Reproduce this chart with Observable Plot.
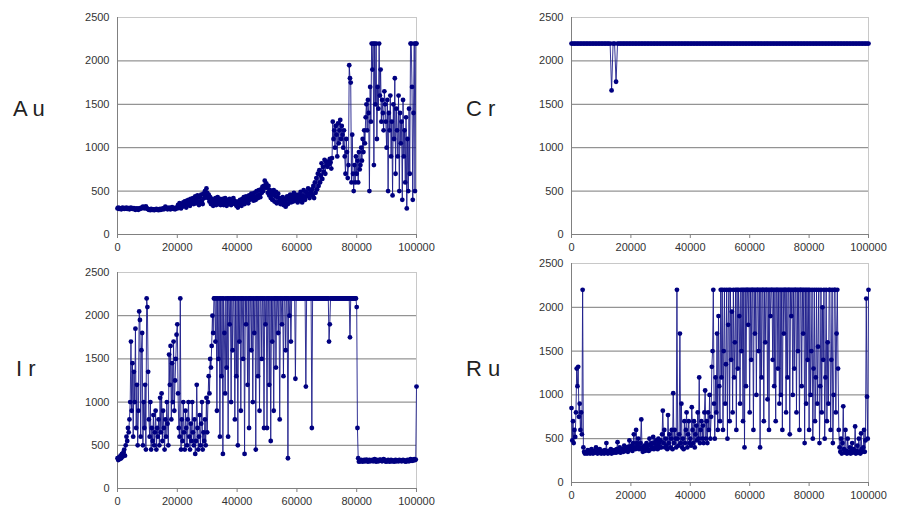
<!DOCTYPE html>
<html><head><meta charset="utf-8">
<script src="https://cdn.jsdelivr.net/npm/d3@7"></script>
<script src="https://cdn.jsdelivr.net/npm/@observablehq/plot@0.6"></script>
<style>
body{margin:0;background:#fff;}
#wrap{position:relative;width:901px;height:508px;overflow:hidden;background:#fff;font-family:"Liberation Sans",Arial,sans-serif;}
.panel{position:absolute;}
.lab{position:absolute;font-size:22px;line-height:22px;color:#222;white-space:pre;}
</style></head><body><div id="wrap"></div>
<script>
// x positions: sample index * step (samples every 250 / 500 units)
const stepFine = 250;
const stepCr = 500;
const xTicks = [0, 20000, 40000, 60000, 80000, 100000];
const yTicks = [0, 500, 1000, 1500, 2000, 2500];
const gridVals = [500, 1000, 1500, 2000];
const names = ["A u", "C r", "I r", "R u"];

const au = [
300,310,295,305,300,290,305,310,300,295,305,300,310,295,300,305,290,300,310,300,
295,300,305,290,285,295,300,290,285,300,295,300,310,305,320,315,300,310,325,305,
295,290,285,290,280,295,290,285,290,280,285,290,295,285,290,280,290,295,285,290,
295,300,290,305,320,310,300,290,300,310,295,290,300,315,305,295,300,290,310,305,
300,340,310,360,330,300,350,320,370,330,380,340,310,390,350,400,360,330,410,370,
380,420,350,400,440,360,410,450,370,340,430,380,460,390,350,470,420,500,450,530,
480,420,460,380,430,350,410,370,330,400,360,420,340,390,430,350,380,410,340,390,
370,410,340,390,420,360,330,400,380,350,410,370,340,400,360,420,390,350,380,330,
350,310,380,340,400,360,330,410,370,430,350,400,440,380,420,360,450,400,430,470,
410,450,390,480,430,400,500,450,420,510,460,430,520,480,550,500,560,620,540,590,
540,480,560,450,510,420,480,400,460,510,380,440,490,360,430,470,380,420,350,410,
380,430,340,410,370,320,400,440,350,420,390,460,370,410,450,380,480,420,460,390,
430,370,460,400,440,490,410,370,450,510,430,400,490,440,470,530,460,420,510,480,
520,450,560,420,600,480,650,520,700,560,740,600,680,820,640,780,720,860,700,840,
800,780,840,810,870,830,760,880,1300,1100,1200,1000,1250,1150,900,1280,1050,1200,1320,1100,
1250,1150,1000,1200,900,700,1100,950,650,800,1950,1800,1750,600,1150,700,500,800,600,900,
700,850,600,950,750,800,1000,850,1100,950,1200,1050,1350,1500,1200,1550,1400,500,1700,1300,
2200,1900,2200,800,2200,1500,2200,1100,1700,1450,2200,1600,1900,1300,1550,1400,1200,1650,1500,1300,
1000,1550,500,1400,1200,1600,900,1300,450,1500,1100,1800,700,1450,1200,900,1600,500,1400,1050,
1300,400,1550,900,1200,600,1350,300,1100,500,1450,700,2200,2200,1700,400,1400,2200,500,2200,
2200];

const cr = [
2200,2200,2200,2200,2200,2200,2200,2200,2200,2200,2200,2200,2200,2200,2200,2200,2200,2200,2200,2200,
2200,2200,2200,2200,2200,2200,2200,1660,2200,2200,1760,2200,2200,2200,2200,2200,2200,2200,2200,2200,
2200,2200,2200,2200,2200,2200,2200,2200,2200,2200,2200,2200,2200,2200,2200,2200,2200,2200,2200,2200,
2200,2200,2200,2200,2200,2200,2200,2200,2200,2200,2200,2200,2200,2200,2200,2200,2200,2200,2200,2200,
2200,2200,2200,2200,2200,2200,2200,2200,2200,2200,2200,2200,2200,2200,2200,2200,2200,2200,2200,2200,
2200,2200,2200,2200,2200,2200,2200,2200,2200,2200,2200,2200,2200,2200,2200,2200,2200,2200,2200,2200,
2200,2200,2200,2200,2200,2200,2200,2200,2200,2200,2200,2200,2200,2200,2200,2200,2200,2200,2200,2200,
2200,2200,2200,2200,2200,2200,2200,2200,2200,2200,2200,2200,2200,2200,2200,2200,2200,2200,2200,2200,
2200,2200,2200,2200,2200,2200,2200,2200,2200,2200,2200,2200,2200,2200,2200,2200,2200,2200,2200,2200,
2200,2200,2200,2200,2200,2200,2200,2200,2200,2200,2200,2200,2200,2200,2200,2200,2200,2200,2200,2200,
2200];

const ir = [
350,330,360,340,380,350,400,370,420,450,380,500,600,550,700,650,800,1000,1700,900,
1450,600,1350,1000,1850,700,1200,500,900,2050,1950,600,1600,1800,500,1000,700,1200,450,2200,
2100,1350,800,600,1000,450,700,550,850,500,650,900,450,700,600,800,500,1050,650,1100,
550,900,700,450,800,600,1000,750,500,1550,1200,1650,800,1450,1000,1700,900,1250,1500,1780,
1900,1100,700,600,2200,450,800,550,1000,650,450,900,700,500,800,1000,600,450,750,550,
1000,650,500,800,400,550,1200,700,450,600,850,500,750,1000,450,650,550,800,500,1050,
650,1000,1300,1100,1500,1400,1650,2000,1800,2200,2200,1700,2200,900,2200,1500,2200,600,2200,1300,
2200,400,2200,1800,1100,2200,1400,2200,600,2200,1900,2200,1000,2200,1600,2200,2200,800,2200,1300,
2200,500,2200,1700,2200,900,2200,2200,1500,2200,400,2200,1900,2200,1200,2200,700,2200,2200,1600,
2200,1000,2200,1800,2200,450,2200,2200,1300,2200,900,2200,2200,1500,2200,2200,700,2200,1900,2200,
700,2200,2200,1200,2200,550,2200,1700,2200,900,2200,2200,1400,2200,2200,1800,2200,800,2200,2200,
1900,2200,1300,2200,2200,1600,2200,2200,350,2200,2000,2200,1700,2200,2200,2200,2200,2200,1270,2200,
2200,2200,2200,2200,2200,2200,2200,2200,2200,2200,2200,2200,1180,2200,2200,2200,2200,2200,2200,2200,
700,2200,2200,2200,2200,2200,2200,2200,2200,2200,2200,2200,2200,2200,2200,2200,2200,2200,2200,2200,
2200,2200,2200,1700,1900,2200,2200,2200,2200,2200,2200,2200,2200,2200,2200,2200,2200,2200,2200,2200,
2200,2200,2200,2200,2200,2200,2200,2200,2200,2200,2200,1750,2200,2200,2200,2200,2200,2200,2200,2200,
2100,700,350,310,320,315,330,320,310,325,330,315,320,335,325,310,320,330,315,325,
320,330,315,325,340,320,310,330,325,315,320,335,330,320,315,325,340,330,320,310,
320,315,330,325,310,320,330,315,325,320,310,320,330,315,325,320,315,330,320,325,
315,320,330,325,315,320,310,325,330,320,315,325,340,335,320,330,325,340,330,335,
1180];

const ru = [
850,480,700,450,600,520,800,1300,1100,1320,750,900,600,800,550,2200,400,350,330,340,
350,330,370,340,360,330,350,380,340,330,360,350,340,400,350,330,360,340,380,350,
330,350,360,340,330,370,350,450,340,330,360,350,340,380,330,350,360,340,370,350,
340,380,460,350,360,400,340,370,380,360,350,420,380,360,400,370,350,410,480,380,
390,420,360,450,550,400,380,600,450,420,500,380,400,450,720,400,350,380,420,360,
400,450,380,420,360,500,430,380,450,400,520,380,450,400,480,420,380,500,450,400,
480,400,550,820,450,600,400,500,420,380,770,450,550,400,500,600,380,1020,450,600,
500,400,2200,500,420,550,1700,450,900,400,500,380,700,450,600,800,400,550,700,450,
500,420,860,600,450,700,400,550,650,480,800,500,1200,450,600,700,500,650,450,800,
1050,500,700,450,800,600,1000,500,750,1320,1500,2200,900,500,1200,800,1700,600,1900,1100,
700,2200,1200,2200,600,1500,2200,900,1350,2200,500,1800,2200,700,2200,1400,1950,800,2200,1200,
1600,2200,600,2200,1300,2200,1900,900,2200,1500,2200,700,2200,400,2200,1100,2200,2200,1800,2200,
800,2200,1400,2200,2200,600,2200,1700,2200,1000,2200,2200,1500,2200,400,2200,1200,2200,2200,700,
2200,1600,2200,2200,950,2200,600,2200,1900,2200,2200,1400,2200,1100,2200,700,2200,2200,1300,2200,
900,2200,1000,2200,600,2200,1700,2200,2200,800,2200,1200,2200,2200,550,2200,1900,2200,1000,2200,
1300,2200,2200,800,2200,1500,2200,600,2200,2200,1100,2200,1700,2200,450,2200,900,2200,1400,2200,
600,2200,1000,1500,2200,500,1300,2200,700,1200,2200,900,1550,2200,450,1100,2200,800,2000,1400,
2200,500,1200,2200,700,1600,900,2200,2200,600,1400,2200,450,1000,2200,2200,800,1700,2200,1300,
600,400,350,500,330,450,870,380,340,600,360,330,500,350,340,400,330,360,450,340,
380,350,640,330,360,420,340,500,350,330,560,380,350,400,600,350,480,2100,980,500,
2200];

const panels = [
  {name: names[0], values: au, step: stepFine, left: 60,  top: 0,   w: 380, h: 258, ml: 57, mr: 24, mt: 17, mb: 24, labX: 13,  labY: 98},
  {name: names[1], values: cr, step: stepCr,   left: 510, top: 0,   w: 380, h: 258, ml: 61, mr: 22, mt: 17, mb: 24, labX: 466, labY: 98},
  {name: names[2], values: ir, step: stepFine, left: 60,  top: 255, w: 380, h: 253, ml: 57, mr: 24, mt: 17, mb: 20, labX: 16,  labY: 358},
  {name: names[3], values: ru, step: stepFine, left: 510, top: 246, w: 380, h: 262, ml: 61, mr: 22, mt: 17, mb: 26, labX: 466, labY: 358}
];

const wrap = document.getElementById("wrap");
for (const p of panels) {
  const data = p.values.map((v, i) => ({x: i * p.step, y: v}));
  const chart = Plot.plot({
    width: p.w, height: p.h,
    marginLeft: p.ml, marginRight: p.mr, marginTop: p.mt, marginBottom: p.mb,
    x: {domain: [0, 100000]},
    y: {domain: [0, 2500]},
    style: {fontFamily: "'Liberation Sans', Arial, sans-serif", fontSize: "11px", color: "#333", background: "transparent", overflow: "visible"},
    marks: [
      Plot.frame({stroke: "#c8c8c8"}),
      Plot.ruleY(gridVals, {stroke: "#7a7a7a", strokeWidth: 1}),
      Plot.ruleX([0], {stroke: "#808080"}),
      Plot.ruleY([0], {stroke: "#808080"}),
      Plot.axisX(xTicks, {label: null, tickFormat: d3.format("d"), tickSize: 4, tickPadding: 5, stroke: "#808080", fill: "#333"}),
      Plot.axisY(yTicks, {label: null, tickFormat: d3.format("d"), tickSize: 0, tickPadding: 8, fill: "#333"}),
      Plot.line(data, {x: "x", y: "y", stroke: "#1c1c8a", strokeWidth: 0.9}),
      Plot.dot(data, {x: "x", y: "y", r: 2.4, fill: "#000080", stroke: "none"})
    ]
  });
  const d = document.createElement("div");
  d.className = "panel";
  d.style.left = p.left + "px";
  d.style.top = p.top + "px";
  d.appendChild(chart);
  wrap.appendChild(d);
  const lab = document.createElement("div");
  lab.className = "lab";
  lab.style.left = p.labX + "px";
  lab.style.top = p.labY + "px";
  lab.textContent = p.name;
  wrap.appendChild(lab);
}
</script>
</body></html>
